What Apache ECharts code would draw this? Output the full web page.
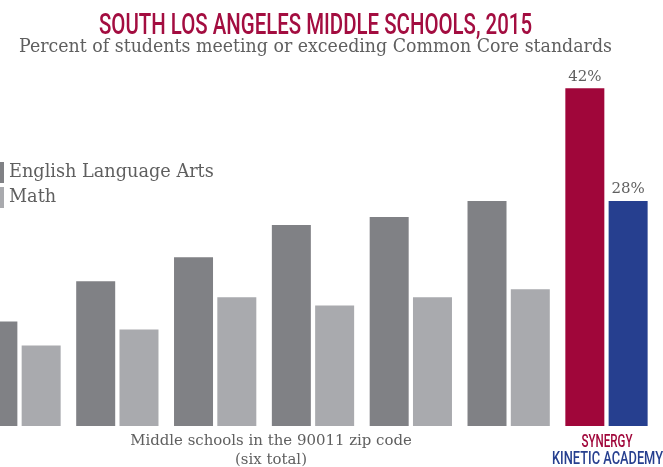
<!DOCTYPE html>
<html>
<head>
<meta charset="utf-8">
<script src="https://cdn.jsdelivr.net/npm/echarts@6/dist/echarts.min.js"></script>
<style>html,body{margin:0;padding:0;background:#fff;overflow:hidden;width:663px;height:467px;}#c{position:absolute;left:-30px;top:0;width:693px;height:467px;}</style>
</head>
<body>
<div id="c"></div>
<script>
const categories = ['School 1','School 2','School 3','School 4','School 5','School 6','Synergy Kinetic Academy'];
const elaValues = [13, 18, 21, 25, 26, 28, 42];
const mathValues = [10, 12, 16, 15, 16, 17, 28];
const seriesNames = ['English Language Arts', 'Math'];

const OFF = 30; // chart canvas starts 30px left of the visible window
const ELA_GRAY = '#808185', MATH_GRAY = '#a9aaae', RED = '#a0063a', BLUE = '#263f8f';
const TITLE_RED = '#a30d40', TEXT_GRAY = '#5f5f5f';
const SERIF = 'DejaVu Serif';
const COND = 'Roboto';

const ctx = document.createElement('canvas').getContext('2d');
function measure(text, font) { ctx.font = font; return ctx.measureText(text).width; }
function fitSize(text, family, target, weight) {
  const w = measure(text, (weight || 'normal') + ' 100px "' + family + '"');
  return 100 * target / w;
}
// horizontally scaled text to hit a target width
function scaledText(text, x, y, family, size, targetW, color, weight, align) {
  const font = weight + ' ' + size + 'px "' + family + '"';
  const sx = targetW / measure(text, font);
  return { type: 'text', x: x + OFF, y: y, scaleX: sx, style: { text: text, fill: color, font: font, align: align || 'left', verticalAlign: 'top' } };
}

const last = categories.length - 1;
function mk(values, hi) {
  return values.map((v, i) => i === last ? {
    value: v,
    itemStyle: { color: hi },
    label: { show: true, position: 'top', formatter: '{c}%', color: TEXT_GRAY, fontSize: 15, fontFamily: SERIF, distance: 4 }
  } : v);
}

const subText = 'Percent of students meeting or exceeding Common Core standards';
const legSize = fitSize(seriesNames[0], SERIF, 205);
const botText = 'Middle schools in the 90011 zip code';
const botSize = fitSize(botText, SERIF, 282);

const chart = echarts.init(document.getElementById('c'));
chart.setOption({
  animation: false,
  graphic: [
    scaledText('SOUTH LOS ANGELES MIDDLE SCHOOLS, 2015', 315.5, 12, COND, 29, 433, TITLE_RED, '500', 'center'),
    scaledText(subText, 315.5, 38, SERIF, 19, 593, TEXT_GRAY, 'normal', 'center'),
    { type: 'text', x: 271 + OFF, y: 432, style: { text: botText + '\n(six total)', fill: TEXT_GRAY, font: botSize.toFixed(2) + 'px "' + SERIF + '"', align: 'center', verticalAlign: 'top', lineHeight: 19 } },
    scaledText('SYNERGY', 607, 433, COND, 18, 51, RED, '500', 'center'),
    scaledText('KINETIC ACADEMY', 607.5, 450, COND, 18, 111, BLUE, '500', 'center')
  ],
  legend: {
    orient: 'vertical', left: OFF - 2, top: 162, padding: 0, itemWidth: 6, itemHeight: 21, itemGap: 4,
    icon: 'rect',
    textStyle: { color: TEXT_GRAY, fontSize: legSize, fontFamily: SERIF },
    data: seriesNames
  },
  grid: { left: 0.6, right: 7.6, top: 24, bottom: 41 },
  xAxis: { type: 'category', data: categories, show: false },
  yAxis: { type: 'value', min: 0, max: 50, show: false },
  series: [
    { name: seriesNames[0], type: 'bar', data: mk(elaValues, RED), itemStyle: { color: ELA_GRAY }, barWidth: 39, barGap: '11%' },
    { name: seriesNames[1], type: 'bar', data: mk(mathValues, BLUE), itemStyle: { color: MATH_GRAY }, barWidth: 39, barGap: '11%' }
  ]
});
</script>
</body>
</html>
